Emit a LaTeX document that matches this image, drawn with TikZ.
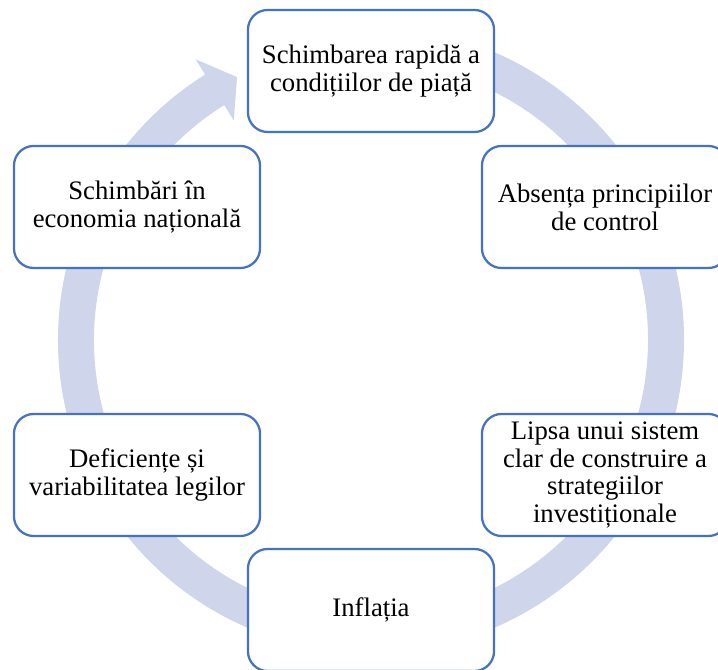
\documentclass[tikz,border=0pt]{standalone}
\usepackage{fontspec}
\setmainfont{Liberation Serif}
\usetikzlibrary{positioning}
\definecolor{ring}{RGB}{207,213,234}
\definecolor{edge}{RGB}{68,114,196}

\begin{document}
\begin{tikzpicture}[x=0.025cm,y=0.025cm,
     font=\fontsize{19}{19.8}\selectfont,
     box/.style={draw=edge,fill=white,rounded corners=14pt,align=center,
                 minimum width=6.15cm,minimum height=3.05cm,line width=1.6pt,inner sep=4pt}]
    \useasboundingbox (0,0) rectangle (718,670);
    \clip (0,0) rectangle (718,670);
    % circular arrow behind the boxes
    \begin{scope}[shift={(371,330)}]
      \fill[ring] (85:313) arc[start angle=85,end angle=-238,radius=313]
          -- (122:331) -- (117:295) -- (122:259) -- (122:277)
          arc[start angle=-238,end angle=85,radius=277] -- cycle;
    \end{scope}
    \node[box] (piata) at (371,599) {Schimbarea rapidă a\\condițiilor de piață};
    \node[box] (control) at (605,463) {Absența principiilor\\de control};
    \node[box] (strategii) at (605,195) {Lipsa unui sistem\\clar de construire a\\strategiilor\\investiționale};
    \node[box] (inflatia) at (371,60) {Inflația};
    \node[box] (legi) at (137,195) {Deficiențe și\\variabilitatea legilor};
    \node[box] (economia) at (137,463) {Schimbări în\\economia națională};
  \end{tikzpicture}
\end{document}
